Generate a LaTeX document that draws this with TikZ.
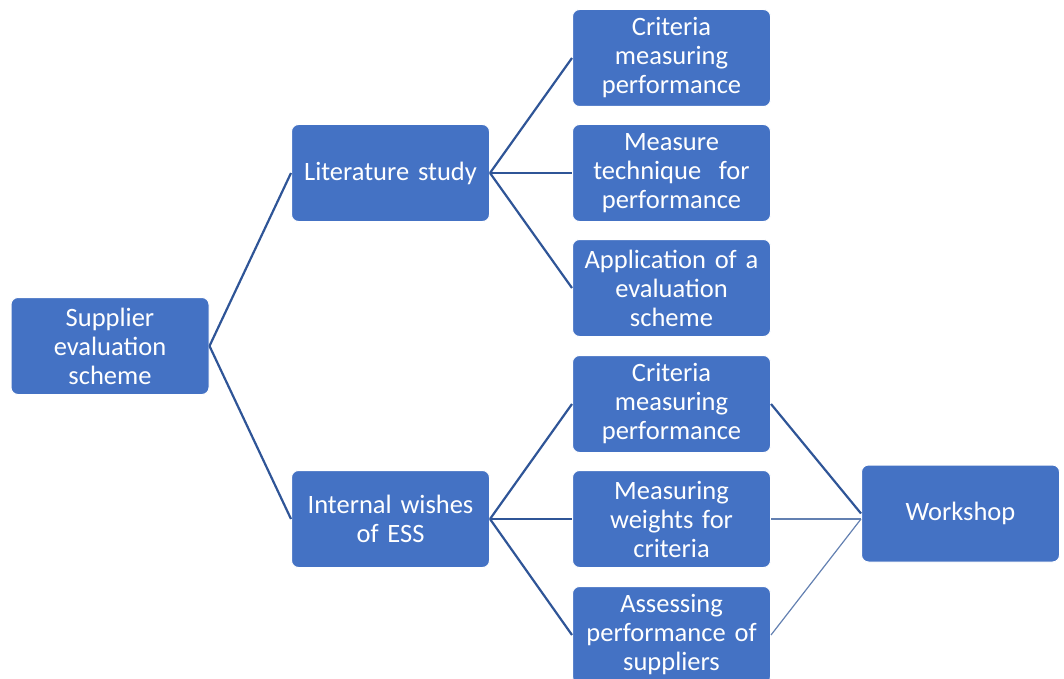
\documentclass[tikz,border=0pt]{standalone}
\usepackage{fontspec}
\setmainfont{Carlito}
\begin{document}
\begin{tikzpicture}[x=1pt,y=-1pt,
  box/.style={draw=white, line width=1pt, fill=boxblue, rounded corners=7pt,
    minimum width=198pt, minimum height=97pt, inner sep=2pt,
    text=white, align=center, text width=194pt,
    font=\fontsize{26.5}{29}\selectfont},
  link/.style={draw=lineblue, line width=2.2pt},
  thinlink/.style={draw=lineblue!75, line width=1.2pt}]
\definecolor{boxblue}{HTML}{4472C4}
\definecolor{lineblue}{HTML}{2F5597}
\useasboundingbox (0,0) rectangle (1064,679);

\node[box] (sup) at (110,346) {Supplier\\evaluation\\scheme};
\node[box] (lit) at (390.5,173) {Literature study};
\node[box] (int) at (390.5,519) {Internal wishes\\of ESS};

\node[box] (a1) at (671.5,58) {Criteria\\measuring\\performance};
\node[box] (a2) at (671.5,173) {Measure\\technique\ \ for\\performance};
\node[box] (a3) at (671.5,288) {Application of a\\evaluation\\scheme};

\node[box] (b1) at (671.5,404) {Criteria\\measuring\\performance};
\node[box] (b2) at (671.5,519) {Measuring\\weights for\\criteria};
\node[box] (b3) at (671.5,635) {Assessing\\performance of\\suppliers};

\node[box] (ws) at (960.5,513.5) {Workshop};
\coordinate (wsin) at (ws.west |- b2.east);

% tree connectors
\draw[link] (sup.east) -- (lit.west);
\draw[link] (sup.east) -- (int.west);
\draw[link] (lit.east) -- (a1.west);
\draw[link] (lit.east) -- (a2.west);
\draw[link] (lit.east) -- (a3.west);
\draw[link] (int.east) -- (b1.west);
\draw[link] (int.east) -- (b2.west);
\draw[link] (int.east) -- (b3.west);

% inputs to the workshop
\draw[link] (b1.east) -- (ws.west);
\draw[thinlink] (b2.east) -- (wsin);
\draw[thinlink] (b3.east) -- (wsin);
\end{tikzpicture}
\end{document}
